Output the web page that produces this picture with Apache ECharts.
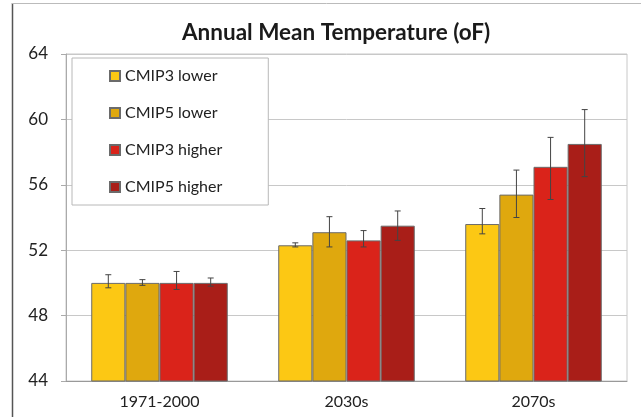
<!DOCTYPE html>
<html><head><meta charset="utf-8">
<script src="https://cdn.jsdelivr.net/npm/echarts@6/dist/echarts.min.js"></script>
<style>html,body{margin:0;padding:0;background:#fff}#c{width:641px;height:417px}</style>
</head><body><div id="c"></div>
<script>
var categories = ['1971-2000', '2030s', '2070s'];
var seriesNames = ['CMIP3 lower', 'CMIP5 lower', 'CMIP3 higher', 'CMIP5 higher'];
var cmip3Lower = [50.0, 52.3, 53.6];
var cmip5Lower = [50.0, 53.1, 55.4];
var cmip3Higher = [50.0, 52.6, 57.1];
var cmip5Higher = [50.0, 53.5, 58.5];
var cmip3LowerErr = [[49.7, 50.5], [52.2, 52.45], [53.0, 54.55]];
var cmip5LowerErr = [[49.85, 50.2], [52.2, 54.05], [54.0, 56.9]];
var cmip3HigherErr = [[49.6, 50.7], [52.2, 53.2], [55.1, 58.9]];
var cmip5HigherErr = [[49.8, 50.3], [52.6, 54.4], [56.5, 60.6]];
var yTicks = [44, 48, 52, 56, 60, 64];

var values = [cmip3Lower, cmip5Lower, cmip3Higher, cmip5Higher];
var errs = [cmip3LowerErr, cmip5LowerErr, cmip3HigherErr, cmip5HigherErr];
var colors = ['#FCC814', '#DFA80E', '#DA231A', '#A91E18'];
var CAT_GAP = 0.27;
var FONT = 'Lato, "Open Sans", sans-serif';

function errSeries(k) {
  return {
    type: 'custom',
    z: 5,
    data: errs[k].map(function (e, i) { return [i, e[0], e[1]]; }),
    renderItem: function (params, api) {
      var band = api.size([1, 0])[0];
      var bw = band * (1 - CAT_GAP) / 4;
      var c = api.coord([api.value(0), api.value(1)]);
      var t = api.coord([api.value(0), api.value(2)]);
      var x = c[0] - 2 * bw + (k + 0.5) * bw;
      var cap = 3;
      var st = { stroke: '#444', lineWidth: 1 };
      return { type: 'group', children: [
        { type: 'line', shape: { x1: x, y1: c[1], x2: x, y2: t[1] }, style: st },
        { type: 'line', shape: { x1: x - cap, y1: c[1], x2: x + cap, y2: c[1] }, style: st },
        { type: 'line', shape: { x1: x - cap, y1: t[1], x2: x + cap, y2: t[1] }, style: st }
      ]};
    }
  };
}

var series = [];
for (var k = 0; k < 4; k++) {
  series.push({
    name: seriesNames[k], type: 'bar', data: values[k],
    barGap: '0%', barCategoryGap: (CAT_GAP * 100) + '%',
    itemStyle: { color: colors[k], borderColor: '#6b6b6b', borderWidth: 1 }
  });
}
for (var k2 = 0; k2 < 4; k2++) series.push(errSeries(k2));

var chart = echarts.init(document.getElementById('c'), null, { renderer: 'canvas' });
chart.setOption({
  animation: false,
  backgroundColor: '#fff',
  color: colors,
  title: {
    text: 'Annual Mean Temperature (oF)', left: 177, top: 16,
    textStyle: { fontFamily: FONT, fontSize: 22.5, fontWeight: 'bold', color: '#1a1a1a' }
  },
  legend: {
    data: seriesNames, orient: 'vertical', left: 72, top: 58,
    padding: [9, 46, 9, 37], itemGap: 19, itemWidth: 10, itemHeight: 10,
    icon: 'rect', backgroundColor: '#fff', borderColor: '#b8b8b8', borderWidth: 1,
    textStyle: { fontFamily: FONT, fontSize: 16, color: '#222', lineHeight: 18 }
  },
  grid: { left: 66, right: 14, top: 54, bottom: 36, show: true, borderColor: '#c8c8c8', borderWidth: 1 },
  xAxis: {
    type: 'category', data: categories,
    axisLine: { lineStyle: { color: '#999' } },
    axisTick: { show: false },
    axisLabel: { fontFamily: FONT, fontSize: 16, color: '#222', margin: 13 }
  },
  yAxis: {
    type: 'value', min: yTicks[0], max: yTicks[yTicks.length - 1], interval: 4,
    axisLine: { show: true, lineStyle: { color: '#aaa' } },
    axisTick: { show: true, length: 5, lineStyle: { color: '#aaa' } },
    axisLabel: { fontFamily: FONT, fontSize: 17, color: '#222', margin: 18 },
    splitLine: { lineStyle: { color: '#c8c8c8' } }
  },
  graphic: [
    { type: 'line', shape: { x1: 12.5, y1: 3, x2: 12.5, y2: 417 }, style: { stroke: '#555', lineWidth: 1.5 } },
    { type: 'line', shape: { x1: 12, y1: 3.5, x2: 641, y2: 3.5 }, style: { stroke: '#bbb', lineWidth: 1 } }
  ],
  series: series
});
</script></body></html>
